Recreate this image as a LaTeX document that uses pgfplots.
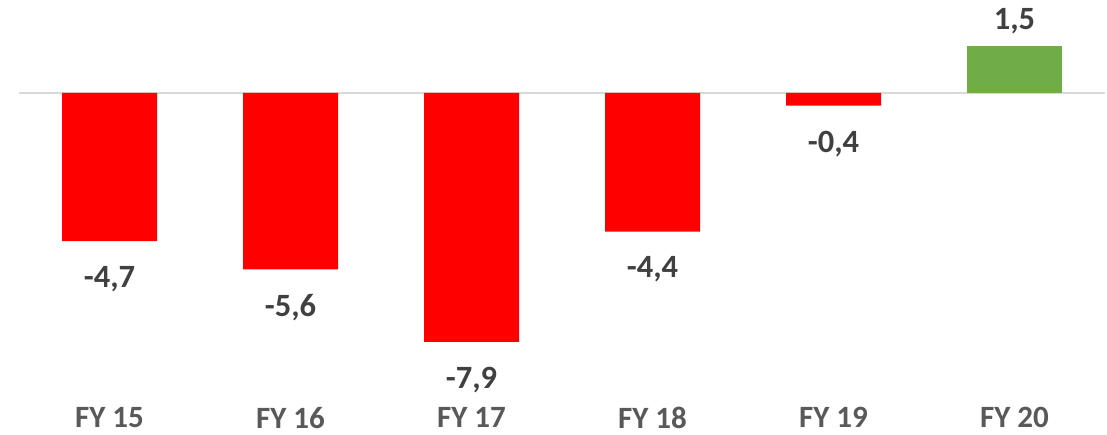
\documentclass[border=0pt]{standalone}
\usepackage{pgfplots}
\pgfplotsset{compat=1.18}
\usepackage{fontspec}
\setmainfont{Carlito}
\definecolor{barred}{HTML}{FF0000}
\definecolor{bargreen}{HTML}{70AD47}
\definecolor{lbl}{HTML}{404040}
\definecolor{tlbl}{HTML}{595959}
\definecolor{zl}{HTML}{D9D9D9}
\begin{document}
\begin{tikzpicture}
\begin{axis}[
  anchor=north west, at={(19pt,0pt)},
  scale only axis, width=1086pt, height=400pt,
  xmin=-0.5, xmax=5.5, ymin=-9.746, ymax=2.952,
  axis line style={draw=none},
  major tick length=0pt,
  ytick=\empty,
  xtick={0,1,2,3,4,5},
  xticklabels={FY 15,FY 16,FY 17,FY 18,FY 19,FY 20},
  xticklabel style={font=\fontsize{31}{31}\selectfont\bfseries, text=tlbl, yshift=-4pt},
  ybar, bar width=95pt,
  nodes near coords,
  /pgf/number format/.cd, use comma, fixed, fixed zerofill, precision=1, assume math mode=true,
]
\draw[color=zl, line width=2pt] (axis cs:-0.5,0) -- (axis cs:5.5,0);
\addplot[fill=barred, draw=none, bar shift=0pt,
  nodes near coords style={font=\fontsize{32.5}{32.5}\selectfont\bfseries, text=lbl, inner sep=8pt, yshift=-17pt}]
  coordinates {(0,-4.7) (1,-5.6) (2,-7.9) (3,-4.4) (4,-0.4)};
\addplot[fill=bargreen, draw=none, bar shift=0pt,
  nodes near coords style={font=\fontsize{32.5}{32.5}\selectfont\bfseries, text=lbl, inner sep=8pt, yshift=4pt}]
  coordinates {(5,1.5)};
\end{axis}
\pgfresetboundingbox
\useasboundingbox (0,0) rectangle (1107pt,-435pt);
\end{tikzpicture}
\end{document}
